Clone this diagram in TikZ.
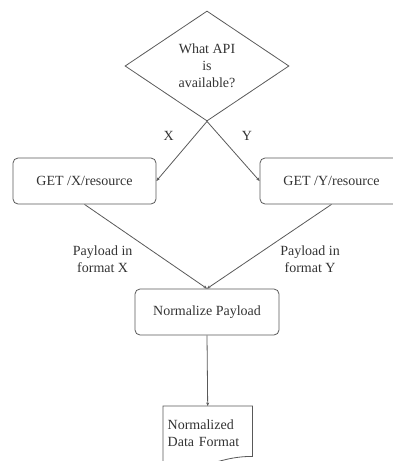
\documentclass[tikz,border=0pt]{standalone}
\usepackage{fontspec}
\setmainfont{Liberation Serif}
\usetikzlibrary{arrows.meta,positioning,calc,shapes.geometric}
\definecolor{linegray}{HTML}{595959}
\definecolor{textgray}{HTML}{333333}

\begin{document}
\begin{tikzpicture}[
  x=1pt,y=-1pt,
  >={Stealth[length=3.5pt,width=3pt]},
  every node/.style={font=\fontsize{14}{17}\selectfont,text=textgray},
  decision/.style={draw=linegray,line width=0.8pt,shape=diamond,minimum width=164pt,minimum height=110pt,inner sep=0pt,align=center},
  stepbox/.style={draw=linegray,line width=0.8pt,rounded corners=5pt,minimum width=143pt,minimum height=46pt,align=center},
  docnode/.style={minimum width=89pt,minimum height=50pt,text width=80pt,inner xsep=4.5pt,inner ysep=6pt,align=left,anchor=north west},
  flow/.style={->,draw=linegray,line width=0.8pt},
  lbl/.style={align=center}]
  \useasboundingbox (0,0) rectangle (393,461);
  \node[decision] (api) at (207,66) {What API\\ is\\ available?};
  \node[stepbox] (getX) at (84.5,181) {GET /X/resource};
  \node[stepbox] (getY) at (331.5,181) {GET /Y/resource};
  \node[stepbox,minimum width=144pt] (norm) at (207,312) {Normalize Payload};
  \node[docnode,text depth=14pt] (data) at (163,406) {Normalized\\ Data Format};
  % document outline with wavy bottom
  \draw[linegray,line width=0.8pt] (data.north west) -- (data.north east) -- (data.south east)
     .. controls +(-20,0) and +(12,-3) .. ($(data.south east)+(-45,8)$)
     .. controls +(-14,4) and +(12,3) .. ($(data.south west)+(0,8)$) -- cycle;
  \draw[flow] (api.south) -- node[pos=0.25,left=17pt]{X} (getX.east);
  \draw[flow] (api.south) -- node[pos=0.25,right=18pt]{Y} (getY.west);
  \draw[flow] (getX.south) -- node[lbl,pos=0.65,left=28pt]{Payload in\\ format X} (norm.north);
  \draw[flow] (getY.south) -- node[lbl,pos=0.65,right=26pt]{Payload in\\ format Y} (norm.north);
  \draw[flow] (norm.south) -- (data.north);
\end{tikzpicture}
\end{document}
